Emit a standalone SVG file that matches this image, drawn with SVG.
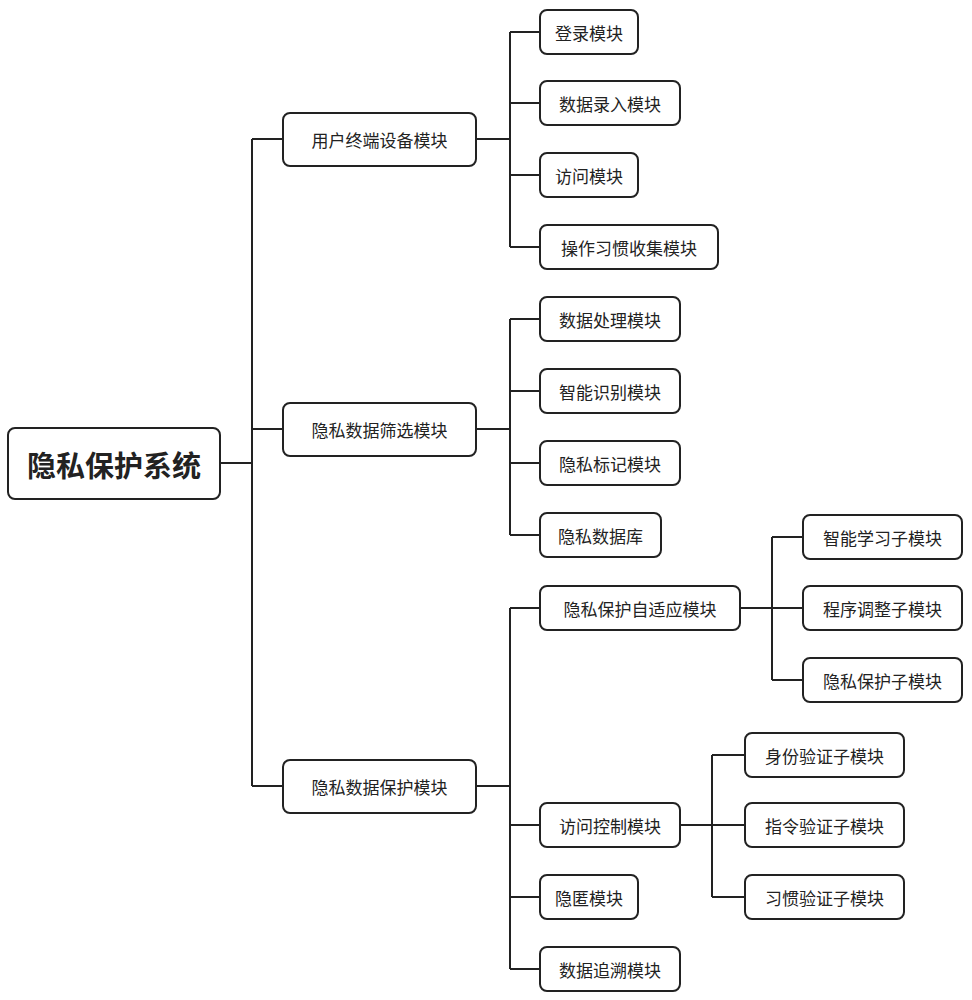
<svg xmlns="http://www.w3.org/2000/svg" width="972" height="1000" viewBox="0 0 972 1000">
<style>
rect{fill:#fff;stroke:#222;stroke-width:2}
text{font-family:"Noto Sans CJK SC","Liberation Sans",sans-serif;font-size:17px;fill:#222;dominant-baseline:central}
.root{font-size:29px;font-weight:bold}
#connectors path{fill:none;stroke:#222;stroke-width:2}
</style>
<rect x="0" y="0" width="972" height="1000" style="fill:#fff;stroke:none"/>
<g id="connectors">
<path d="M220 463H252M252 139V786M252 139H283M252 429H283M252 786H283"/>
<path d="M476 139H510M510 32V247M510 32H540M510 103H540M510 175H540M510 247H540"/>
<path d="M476 429H510M510 319V535M510 319H540M510 391H540M510 463H540M510 535H540"/>
<path d="M476 786H510M510 608V969M510 608H540M510 825H540M510 897H540M510 969H540"/>
<path d="M740 608H772M772 537V680M772 537H803M772 608H803M772 680H803"/>
<path d="M680 825H712M712 755V897M712 755H745M712 825H745M712 897H745"/>
</g>
<g id="root"><rect x="8" y="428" width="212" height="71" rx="7"/><text class="root" x="114" y="463.5" text-anchor="middle">隐私保护系统</text></g>
<g id="n1"><rect x="283" y="113" width="193" height="53" rx="7"/><text x="379.5" y="139.5" text-anchor="middle">用户终端设备模块</text></g>
<g id="n2"><rect x="283" y="403" width="193" height="53" rx="7"/><text x="379.5" y="429.5" text-anchor="middle">隐私数据筛选模块</text></g>
<g id="n3"><rect x="283" y="760" width="193" height="53" rx="7"/><text x="379.5" y="786.5" text-anchor="middle">隐私数据保护模块</text></g>
<g id="a1"><rect x="540" y="10" width="98" height="44" rx="7"/><text x="589" y="32" text-anchor="middle">登录模块</text></g>
<g id="a2"><rect x="540" y="81" width="140" height="44" rx="7"/><text x="610" y="103" text-anchor="middle">数据录入模块</text></g>
<g id="a3"><rect x="540" y="153" width="98" height="44" rx="7"/><text x="589" y="175" text-anchor="middle">访问模块</text></g>
<g id="a4"><rect x="540" y="225" width="178" height="44" rx="7"/><text x="629" y="247" text-anchor="middle">操作习惯收集模块</text></g>
<g id="b1"><rect x="540" y="297" width="140" height="44" rx="7"/><text x="610" y="319" text-anchor="middle">数据处理模块</text></g>
<g id="b2"><rect x="540" y="369" width="140" height="44" rx="7"/><text x="610" y="391" text-anchor="middle">智能识别模块</text></g>
<g id="b3"><rect x="540" y="441" width="140" height="44" rx="7"/><text x="610" y="463" text-anchor="middle">隐私标记模块</text></g>
<g id="b4"><rect x="540" y="513" width="121" height="44" rx="7"/><text x="600.5" y="535" text-anchor="middle">隐私数据库</text></g>
<g id="c1"><rect x="540" y="586" width="200" height="44" rx="7"/><text x="640" y="608" text-anchor="middle">隐私保护自适应模块</text></g>
<g id="c2"><rect x="540" y="803" width="140" height="44" rx="7"/><text x="610" y="825" text-anchor="middle">访问控制模块</text></g>
<g id="c3"><rect x="540" y="875" width="98" height="44" rx="7"/><text x="589" y="897" text-anchor="middle">隐匿模块</text></g>
<g id="c4"><rect x="540" y="947" width="140" height="44" rx="7"/><text x="610" y="969" text-anchor="middle">数据追溯模块</text></g>
<g id="d1"><rect x="803" y="515" width="159" height="44" rx="7"/><text x="882.5" y="537" text-anchor="middle">智能学习子模块</text></g>
<g id="d2"><rect x="803" y="586" width="159" height="44" rx="7"/><text x="882.5" y="608" text-anchor="middle">程序调整子模块</text></g>
<g id="d3"><rect x="803" y="658" width="159" height="44" rx="7"/><text x="882.5" y="680" text-anchor="middle">隐私保护子模块</text></g>
<g id="e1"><rect x="745" y="733" width="159" height="44" rx="7"/><text x="824.5" y="755" text-anchor="middle">身份验证子模块</text></g>
<g id="e2"><rect x="745" y="803" width="159" height="44" rx="7"/><text x="824.5" y="825" text-anchor="middle">指令验证子模块</text></g>
<g id="e3"><rect x="745" y="875" width="159" height="44" rx="7"/><text x="824.5" y="897" text-anchor="middle">习惯验证子模块</text></g>
</svg>
